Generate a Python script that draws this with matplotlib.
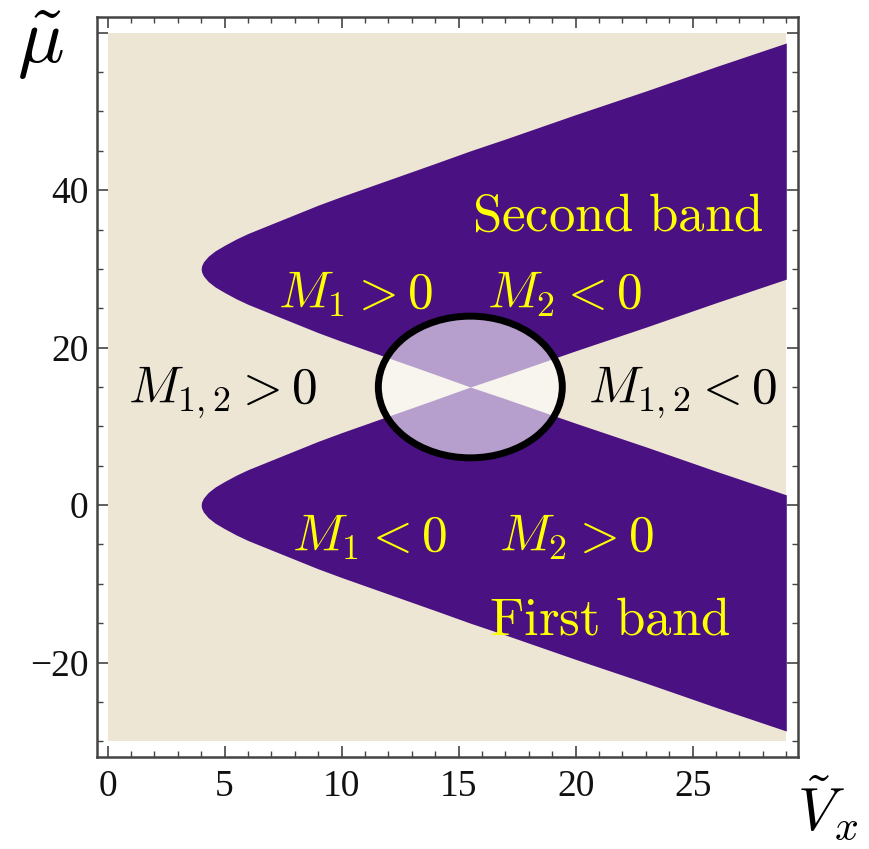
import numpy as np
import matplotlib.pyplot as plt
from matplotlib.patches import Ellipse
from matplotlib.ticker import MultipleLocator

plt.rcParams.update({'mathtext.fontset': 'cm',
                     'font.family': 'serif',
                     'font.serif': ['Liberation Serif', 'DejaVu Serif']})

# colours
beige = '#eee6d5'
purple = '#4a1182'
yellow = '#ffff00'

# plotted region of the parameter plane
vx_range = [0, 29]
mu_range = [-30, 60]

# band edges: half width of each band vs Vx
vx = [4.0, 4.02, 4.1, 4.3, 4.6, 5.0, 5.5, 6.0, 7.0, 8.0, 9.0, 10.0, 12.0,
      14.0, 15.5, 17.0, 20.0, 23.0, 26.0, 29.0]
half_width = [0.0, 0.4, 0.9, 1.6, 2.3, 3.0, 3.8, 4.5, 5.7, 6.9, 8.1, 9.2, 11.3,
              13.4, 15.0, 16.5, 19.6, 22.6, 25.7, 28.7]
band_centre = [0, 30]  # first band, second band

# highlighted crossing
cross_centre = (15.5, 15.0)
cross_size = (7.86, 18.0)

xticks = [0, 5, 10, 15, 20, 25]
yticks = [-20, 0, 20, 40, 60]
ytick_labels = ['\u221220', '0', '20', '40', '']

# labels: text, x, y (baseline), colour, size
labels = [
    (r'$\mathrm{Second\ band}$', 21.8, 34.9, yellow, 38),
    (r'$\mathrm{First\ band}$', 21.45, -16.5, yellow, 38),
    (r'$M_1 > 0$', 10.6, 25.0, yellow, 37),
    (r'$M_2 < 0$', 19.5, 25.0, yellow, 37),
    (r'$M_{1,2} > 0$', 4.9, 12.95, 'black', 37),
    (r'$M_{1,2} < 0$', 24.55, 12.95, 'black', 37),
    (r'$M_1 < 0$', 11.2, -5.85, yellow, 37),
    (r'$M_2 > 0$', 20.05, -5.85, yellow, 37),
]

vx_arr = np.array(vx)
hw = np.array(half_width)
c1, c2 = band_centre

fig = plt.figure(figsize=(8.7, 8.49), dpi=100)
ax = fig.add_axes([97/870, 1-757/849, (798-97)/870, (757-17)/849])

ax.fill_between(vx_range, mu_range[0], mu_range[1], color=beige, lw=0, zorder=1)
# first band (below the crossing line of the second one)
ax.fill_between(vx_arr, c1 - hw, np.minimum(c1 + hw, c2 - hw), color=purple, lw=0, zorder=2)
# second band
ax.fill_between(vx_arr, np.maximum(c2 - hw, c1 + hw), c2 + hw, color=purple, lw=0, zorder=2)

ax.add_patch(Ellipse(cross_centre, cross_size[0], cross_size[1],
                     facecolor=(1, 1, 1, 0.6), edgecolor='black', lw=5, zorder=3))

for txt, x, y, col, fs in labels:
    ax.text(x, y, txt, color=col, fontsize=fs, ha='center', va='baseline', zorder=4)

ax.set_xlim(-0.45, 29.5)
ax.set_ylim(-32, 62)
ax.xaxis.set_minor_locator(MultipleLocator(1))
ax.yaxis.set_minor_locator(MultipleLocator(5))
ax.set_xticks(xticks)
ax.set_xticklabels([str(t) for t in xticks])
ax.set_yticks(yticks)
ax.set_yticklabels(ytick_labels)
ax.tick_params(which='both', direction='in', top=True, right=True, color='#444444',
               labelsize=27, labelcolor='#111111')
ax.tick_params(which='major', length=8, width=1.2)
ax.tick_params(which='minor', length=4, width=1.0)
ax.tick_params(axis='x', pad=9)
ax.tick_params(axis='y', pad=6)
for s in ax.spines.values():
    s.set_color('#444444')
    s.set_linewidth(1.8)

fig.text(40/870, 1-45/849, r'$\tilde{\mu}$', fontsize=56, ha='center', va='center')
fig.text(828/870, 1-843/849, r'$\tilde{V}_x$', fontsize=43, ha='center', va='bottom')

plt.savefig('out.png', dpi=100)
